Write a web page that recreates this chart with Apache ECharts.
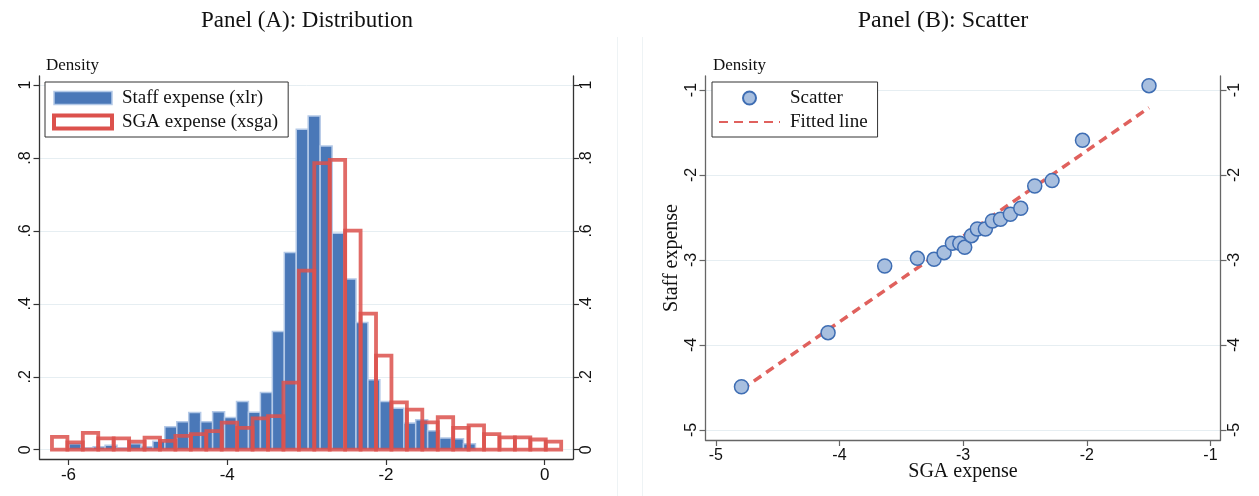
<!DOCTYPE html>
<html>
<head>
<meta charset="utf-8">
<script src="https://cdn.jsdelivr.net/npm/echarts@6/dist/echarts.min.js"></script>
<style>
  html, body { margin: 0; padding: 0; background: #fff; }
  #chart { width: 1259px; height: 496px; }
</style>
</head>
<body>
<div id="chart"></div>
<script>
// Panel A: histogram bins (density per bin)
const staffStart = -5.99;
const staffWidth = 0.1505;
const staffDensity = [0.016, 0.005, 0.008, 0.012, 0.005, 0.016, 0.008, 0.023, 0.063, 0.077,
  0.102, 0.077, 0.104, 0.088, 0.132, 0.103, 0.157, 0.324, 0.541, 0.879,
  0.915, 0.833, 0.594, 0.468, 0.349, 0.192, 0.132, 0.114, 0.073, 0.082,
  0.052, 0.032, 0.030, 0.016];

const sgaStart = -6.208;
const sgaWidth = 0.1944;
const sgaDensity = [0.035, 0.020, 0.046, 0.031, 0.031, 0.022, 0.033, 0.024, 0.038, 0.043,
  0.051, 0.074, 0.060, 0.086, 0.092, 0.184, 0.491, 0.786, 0.795, 0.601,
  0.373, 0.258, 0.130, 0.110, 0.075, 0.089, 0.060, 0.067, 0.043, 0.034,
  0.034, 0.028, 0.022];

const xTicksA = [-6, -4, -2, 0];
const yTicksA = [0, 0.2, 0.4, 0.6, 0.8, 1];

// Panel B: scatter
const sgaExpense = [-4.792, -4.092, -3.634, -3.370, -3.235, -3.154, -3.087, -3.027, -2.987, -2.933,
  -2.885, -2.820, -2.763, -2.698, -2.618, -2.534, -2.421, -2.281, -2.035, -1.497];
const staffExpense = [-4.491, -3.855, -3.071, -2.980, -2.992, -2.914, -2.804, -2.804, -2.851, -2.714,
  -2.635, -2.635, -2.541, -2.521, -2.462, -2.392, -2.129, -2.066, -1.592, -0.949];
const fitX = [-4.792, -1.497];
const fitY = [-4.525, -1.208];

const xTicksB = [-5, -4, -3, -2, -1];
const yTicksB = [-5, -4, -3, -2, -1];

const serif = '"Liberation Serif", "DejaVu Serif", serif';
const sans = '"Liberation Sans", Arial, sans-serif';

const blue = '#4a78b8';
const blueEdge = '#b4c9e7';
const red = '#dc514c';

function bins(start, width, vals) {
  return vals.map((v, i) => [start + i * width, start + (i + 1) * width, v]);
}

function binRenderer(fill, stroke, lw, opacity) {
  return function (params, api) {
    const a = api.coord([api.value(0), api.value(2)]);
    const b = api.coord([api.value(1), 0]);
    return {
      type: 'rect',
      shape: { x: a[0], y: a[1], width: b[0] - a[0], height: b[1] - a[1] },
      style: { fill: fill, stroke: stroke, lineWidth: lw, opacity: opacity }
    };
  };
}

const fmtA = v => (v === 0 ? '0' : v === 1 ? '1' : String(+v.toFixed(1)).replace('0.', '.'));

function yAxisCommon(grid, min, max, ticks, pos, fmt, color, split) {
  return {
    type: 'value', gridIndex: grid, position: pos, min: min, max: max,
    axisLine: { show: true, onZero: false, lineStyle: { color: color, width: 1.3 } },
    axisTick: { show: true, customValues: ticks, length: 6, lineStyle: { color: color, width: 1.2 } },
    axisLabel: { customValues: ticks, formatter: fmt, rotate: 90, fontSize: 16, color: '#111', fontFamily: sans, margin: 6 },
    splitLine: { show: split, lineStyle: { color: '#e6eef2', width: 1 } }
  };
}

const chart = echarts.init(document.getElementById('chart'), null, { renderer: 'canvas' });

const legendText = { fontFamily: serif, fontSize: 19, color: '#111', lineHeight: 20, padding: [0, 0, 0, 5] };

const option = {
  animation: false,
  backgroundColor: '#fff',
  title: [
    { text: 'Panel (A): Distribution', left: 302, top: 4, textAlign: 'center',
      textStyle: { fontFamily: serif, fontSize: 23, fontWeight: 'normal', color: '#111' } },
    { text: 'Panel (B): Scatter', left: 938, top: 4, textAlign: 'center',
      textStyle: { fontFamily: serif, fontSize: 24, fontWeight: 'normal', color: '#111' } },
    { text: 'Density', left: 41, top: 52,
      textStyle: { fontFamily: serif, fontSize: 17, fontWeight: 'normal', color: '#111' } },
    { text: 'Density', left: 708, top: 52,
      textStyle: { fontFamily: serif, fontSize: 17, fontWeight: 'normal', color: '#111' } }
  ],
  graphic: [
    { type: 'line', shape: { x1: 617.5, y1: 37, x2: 617.5, y2: 496 }, style: { stroke: '#eef3f5', lineWidth: 1 } },
    { type: 'line', shape: { x1: 642.5, y1: 37, x2: 642.5, y2: 496 }, style: { stroke: '#eef3f5', lineWidth: 1 } }
  ],
  legend: [
    {
      data: [
        { name: 'Staff expense (xlr)', itemStyle: { color: blue, borderColor: blueEdge, borderWidth: 1.5 } },
        { name: 'SGA expense (xsga)', itemStyle: { color: '#ffffff', borderColor: red, borderWidth: 4 } }
      ],
      orient: 'vertical', left: 45, top: 82,
      backgroundColor: '#fff', borderColor: '#333', borderWidth: 1, borderRadius: 0,
      padding: [6, 10, 5, 7], itemGap: 4, itemWidth: 58, itemHeight: 13, icon: 'rect',
      textStyle: legendText
    },
    {
      data: [
        { name: 'Scatter', icon: 'circle' },
        { name: 'Fitted line', itemStyle: { opacity: 0 } }
      ],
      orient: 'vertical', left: 712, top: 82,
      backgroundColor: '#fff', borderColor: '#333', borderWidth: 1, borderRadius: 0,
      padding: [6, 10, 5, 6], itemGap: 4, itemWidth: 61, itemHeight: 13,
      textStyle: legendText
    }
  ],
  grid: [
    { left: 39.5, right: 686, top: 76, bottom: 37 },
    { left: 705.5, right: 38.5, top: 76, bottom: 56 }
  ],
  xAxis: [
    {
      type: 'value', gridIndex: 0, min: -6.365, max: 0.356,
      axisLine: { show: true, onZero: false, lineStyle: { color: '#333', width: 1.3 } },
      axisTick: { show: true, customValues: xTicksA, length: 6, lineStyle: { color: '#333', width: 1.2 } },
      axisLabel: { customValues: xTicksA, fontSize: 17, color: '#111', fontFamily: sans, margin: 8 },
      splitLine: { show: false }
    },
    {
      type: 'value', gridIndex: 1, min: -5.083, max: -0.919,
      name: 'SGA expense', nameLocation: 'middle', nameGap: 22, nameMoveOverlap: false,
      nameTextStyle: { fontFamily: serif, fontSize: 20, color: '#111' },
      axisLine: { show: true, onZero: false, lineStyle: { color: '#666', width: 1.3 } },
      axisTick: { show: true, customValues: xTicksB, length: 6, lineStyle: { color: '#666', width: 1.2 } },
      axisLabel: { customValues: xTicksB, fontSize: 16, color: '#111', fontFamily: sans, margin: 8 },
      splitLine: { show: false }
    }
  ],
  yAxis: [
    yAxisCommon(0, -0.0255, 1.025, yTicksA, 'left', fmtA, '#333', true),
    yAxisCommon(0, -0.0255, 1.025, yTicksA, 'right', fmtA, '#333', false),
    Object.assign(yAxisCommon(1, -5.118, -0.835, yTicksB, 'left', null, '#666', true), {
      name: 'Staff expense', nameLocation: 'middle', nameGap: 24,
      nameTextStyle: { fontFamily: serif, fontSize: 20, color: '#111' }
    }),
    yAxisCommon(1, -5.118, -0.835, yTicksB, 'right', null, '#666', false)
  ],
  series: [
    {
      name: 'Staff expense (xlr)', type: 'custom', xAxisIndex: 0, yAxisIndex: 0,
      data: bins(staffStart, staffWidth, staffDensity),
      encode: { x: [0, 1], y: 2 },
      itemStyle: { color: blue },
      renderItem: binRenderer(blue, blueEdge, 1.5, 1),
      z: 2
    },
    {
      name: 'SGA expense (xsga)', type: 'custom', xAxisIndex: 0, yAxisIndex: 0,
      data: bins(sgaStart, sgaWidth, sgaDensity),
      encode: { x: [0, 1], y: 2 },
      itemStyle: { color: red },
      renderItem: binRenderer('none', red, 3.8, 0.85),
      z: 3
    },
    {
      name: 'Fitted line', type: 'line', xAxisIndex: 1, yAxisIndex: 2,
      data: fitX.map((x, i) => [x, fitY[i]]),
      showSymbol: false, symbol: 'none',
      lineStyle: { color: '#e0615d', width: 3.5, type: [9, 6] },
      itemStyle: { color: '#e0615d' },
      z: 2
    },
    {
      name: 'Scatter', type: 'scatter', xAxisIndex: 1, yAxisIndex: 2,
      data: sgaExpense.map((x, i) => [x, staffExpense[i]]),
      symbol: 'circle', symbolSize: 14,
      itemStyle: { color: '#a8bfdf', borderColor: '#3e6db3', borderWidth: 1.5, opacity: 1 },
      z: 3
    }
  ]
};

chart.setOption(option);
</script>
</body>
</html>
